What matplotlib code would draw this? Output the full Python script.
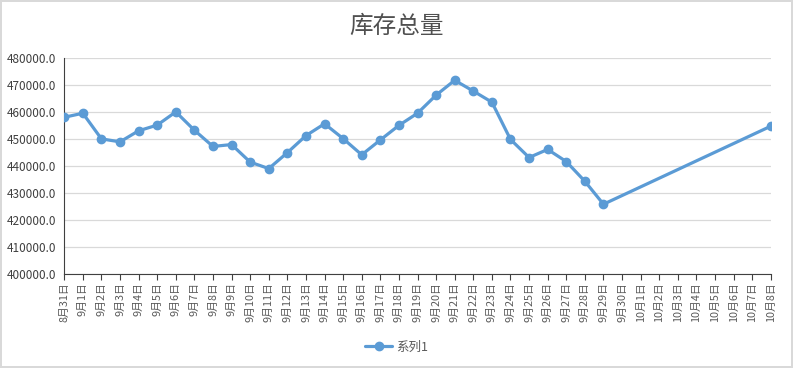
import matplotlib
matplotlib.use("Agg")
import matplotlib.pyplot as plt
import matplotlib.dates as mdates
import pandas as pd

plt.rcParams['font.family'] = ['Noto Sans CJK SC', 'DejaVu Sans']

# data points (date axis, gap between 9/29 and 10/8)
dates = ['2019-08-31', '2019-09-01', '2019-09-02', '2019-09-03', '2019-09-04',
         '2019-09-05', '2019-09-06', '2019-09-07', '2019-09-08', '2019-09-09',
         '2019-09-10', '2019-09-11', '2019-09-12', '2019-09-13', '2019-09-14',
         '2019-09-15', '2019-09-16', '2019-09-17', '2019-09-18', '2019-09-19',
         '2019-09-20', '2019-09-21', '2019-09-22', '2019-09-23', '2019-09-24',
         '2019-09-25', '2019-09-26', '2019-09-27', '2019-09-28', '2019-09-29',
         '2019-10-08']
values = [458100, 459600, 450100, 449000, 453100, 455200, 460100, 453300,
          447300, 448000, 441500, 439100, 445000, 451300, 455700, 450200,
          444200, 449700, 455100, 459600, 466300, 471800, 467800, 463700,
          449900, 443200, 446200, 441700, 434400, 425900, 454800]
x_start, x_end = '2019-08-31', '2019-10-08'

blue = '#5B9BD5'
txt = '#595959'

fig = plt.figure(figsize=(7.93, 3.68), dpi=100)
fig.patch.set_edgecolor('#D9D9D9')
fig.patch.set_linewidth(1.5)
ax = fig.add_axes([0.081, 0.255, 0.891, 0.587])

x = pd.to_datetime(dates)
ax.plot(x, values, color=blue, lw=2.3, marker='o', markersize=6, label='系列1',
        solid_capstyle='round', zorder=3)

ax.set_xlim(pd.Timestamp(x_start), pd.Timestamp(x_end))
ax.set_ylim(400000, 480000)
ax.set_yticks(range(400000, 480001, 10000))
ax.yaxis.set_major_formatter(lambda v, p: f'{v:.1f}')
ax.grid(axis='y', color='#D9D9D9', lw=0.9)
ax.set_axisbelow(True)

ax.xaxis.set_major_locator(mdates.DayLocator())
ax.xaxis.set_major_formatter(lambda v, p: '{}月{}日'.format(mdates.num2date(v).month, mdates.num2date(v).day))
for lbl in ax.get_xticklabels():
    lbl.set_rotation(90)
ax.tick_params(axis='x', labelsize=7.8, colors=txt, length=4, width=0.8, direction='out', pad=2)
ax.tick_params(axis='x', color='#404040')
ax.tick_params(axis='y', labelsize=8.5, colors='#404040', length=0, pad=6)

for s in ['top', 'right']:
    ax.spines[s].set_visible(False)
for s in ['left', 'bottom']:
    ax.spines[s].set_color('#404040')
    ax.spines[s].set_linewidth(0.8)

fig.suptitle('库存总量', x=0.5, y=0.96, fontsize=17, color='#505050', fontweight='medium')
fig.legend(loc='center', bbox_to_anchor=(0.5, 0.057), frameon=False, fontsize=9,
           labelcolor=txt, handlelength=2.2, handletextpad=0.3)

fig.savefig('out.png', dpi=100)
